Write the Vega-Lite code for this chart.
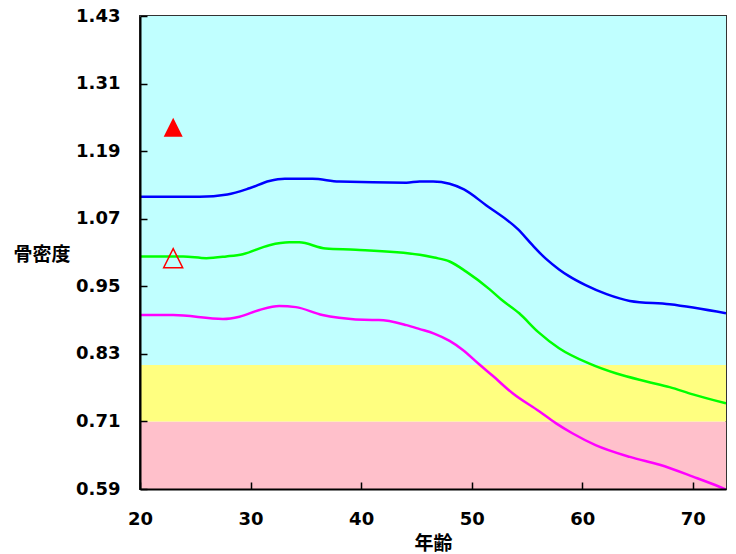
{
  "$schema": "https://vega.github.io/schema/vega-lite/v6.json",
  "width": 586,
  "height": 473,
  "autosize": {"type": "none"},
  "padding": {"left": 140, "top": 16, "right": 10, "bottom": 65},
  "background": "white",
  "config": {
    "view": {"stroke": "#333333", "strokeWidth": 2},
    "axis": {
      "grid": false,
      "labelFlush": false,
      "labelOverlap": false,
      "domainColor": "#000000",
      "domainWidth": 2,
      "tickColor": "#000000",
      "tickWidth": 1.5,
      "labelFont": "DejaVu Sans",
      "labelFontWeight": "bold",
      "labelFontSize": 18,
      "labelColor": "#000000",
      "titleFont": "Noto Sans CJK JP",
      "titleFontWeight": "bold",
      "titleFontSize": 19,
      "titleColor": "#000000"
    }
  },
  "datasets": {
    "bands": [
      {"zone": "low", "lo": 0.59, "hi": 0.71},
      {"zone": "mid", "lo": 0.71, "hi": 0.81},
      {"zone": "high", "lo": 0.81, "hi": 1.43}
    ],
    "curves": [
      {"series": "upper", "age": 20, "bmd": 1.109},
      {"series": "upper", "age": 25.4, "bmd": 1.109},
      {"series": "upper", "age": 27.9, "bmd": 1.113},
      {"series": "upper", "age": 29.9, "bmd": 1.124},
      {"series": "upper", "age": 31.7, "bmd": 1.137},
      {"series": "upper", "age": 33.1, "bmd": 1.141},
      {"series": "upper", "age": 35.6, "bmd": 1.141},
      {"series": "upper", "age": 38.0, "bmd": 1.136},
      {"series": "upper", "age": 44.1, "bmd": 1.134},
      {"series": "upper", "age": 45.3, "bmd": 1.136},
      {"series": "upper", "age": 46.5, "bmd": 1.136},
      {"series": "upper", "age": 48.0, "bmd": 1.132},
      {"series": "upper", "age": 49.3, "bmd": 1.122},
      {"series": "upper", "age": 51.3, "bmd": 1.094},
      {"series": "upper", "age": 54.2, "bmd": 1.051},
      {"series": "upper", "age": 55.5, "bmd": 1.023},
      {"series": "upper", "age": 56.7, "bmd": 0.999},
      {"series": "upper", "age": 57.9, "bmd": 0.980},
      {"series": "upper", "age": 58.8, "bmd": 0.968},
      {"series": "upper", "age": 60.3, "bmd": 0.952},
      {"series": "upper", "age": 62.2, "bmd": 0.936},
      {"series": "upper", "age": 64.3, "bmd": 0.924},
      {"series": "upper", "age": 67.9, "bmd": 0.918},
      {"series": "upper", "age": 73, "bmd": 0.902},
      {"series": "mean", "age": 20, "bmd": 1.003},
      {"series": "mean", "age": 23.9, "bmd": 1.003},
      {"series": "mean", "age": 26.0, "bmd": 1.000},
      {"series": "mean", "age": 27.8, "bmd": 1.003},
      {"series": "mean", "age": 29.3, "bmd": 1.007},
      {"series": "mean", "age": 31.7, "bmd": 1.023},
      {"series": "mean", "age": 33.5, "bmd": 1.028},
      {"series": "mean", "age": 34.4, "bmd": 1.028},
      {"series": "mean", "age": 36.8, "bmd": 1.017},
      {"series": "mean", "age": 39.5, "bmd": 1.015},
      {"series": "mean", "age": 45.3, "bmd": 1.006},
      {"series": "mean", "age": 46.6, "bmd": 1.001},
      {"series": "mean", "age": 48.0, "bmd": 0.994},
      {"series": "mean", "age": 49.5, "bmd": 0.976},
      {"series": "mean", "age": 51.6, "bmd": 0.945},
      {"series": "mean", "age": 52.7, "bmd": 0.926},
      {"series": "mean", "age": 54.3, "bmd": 0.902},
      {"series": "mean", "age": 56.0, "bmd": 0.869},
      {"series": "mean", "age": 57.9, "bmd": 0.840},
      {"series": "mean", "age": 60.6, "bmd": 0.813},
      {"series": "mean", "age": 63.1, "bmd": 0.795},
      {"series": "mean", "age": 65.8, "bmd": 0.781},
      {"series": "mean", "age": 67.9, "bmd": 0.771},
      {"series": "mean", "age": 70.0, "bmd": 0.758},
      {"series": "mean", "age": 73, "bmd": 0.742},
      {"series": "lower", "age": 20, "bmd": 0.899},
      {"series": "lower", "age": 23.0, "bmd": 0.899},
      {"series": "lower", "age": 27.5, "bmd": 0.892},
      {"series": "lower", "age": 29.0, "bmd": 0.896},
      {"series": "lower", "age": 30.8, "bmd": 0.908},
      {"series": "lower", "age": 32.6, "bmd": 0.915},
      {"series": "lower", "age": 34.1, "bmd": 0.913},
      {"series": "lower", "age": 36.5, "bmd": 0.899},
      {"series": "lower", "age": 38.0, "bmd": 0.894},
      {"series": "lower", "age": 41.0, "bmd": 0.890},
      {"series": "lower", "age": 41.6, "bmd": 0.890},
      {"series": "lower", "age": 44.1, "bmd": 0.881},
      {"series": "lower", "age": 45.3, "bmd": 0.874},
      {"series": "lower", "age": 46.6, "bmd": 0.866},
      {"series": "lower", "age": 48.0, "bmd": 0.853},
      {"series": "lower", "age": 49.2, "bmd": 0.837},
      {"series": "lower", "age": 50.7, "bmd": 0.811},
      {"series": "lower", "age": 51.9, "bmd": 0.791},
      {"series": "lower", "age": 53.7, "bmd": 0.760},
      {"series": "lower", "age": 56.1, "bmd": 0.728},
      {"series": "lower", "age": 57.6, "bmd": 0.707},
      {"series": "lower", "age": 59.1, "bmd": 0.689},
      {"series": "lower", "age": 61.2, "bmd": 0.668},
      {"series": "lower", "age": 64.3, "bmd": 0.647},
      {"series": "lower", "age": 67.0, "bmd": 0.633},
      {"series": "lower", "age": 70.0, "bmd": 0.612},
      {"series": "lower", "age": 72.4, "bmd": 0.594},
      {"series": "lower", "age": 73, "bmd": 0.589}
    ],
    "markers": [
      {"kind": "filled", "age": 23.0, "bmd": 1.2325},
      {"kind": "hollow", "age": 23.0, "bmd": 1.0}
    ]
  },
  "layer": [
    {
      "data": {"name": "bands"},
      "mark": {"type": "rect"},
      "encoding": {
        "y": {
          "field": "lo",
          "type": "quantitative",
          "scale": {"domain": [0.59, 1.43], "nice": false, "zero": false},
          "axis": {
            "values": [0.59, 0.71, 0.83, 0.95, 1.07, 1.19, 1.31, 1.43],
            "format": ".2f",
            "zindex": 2,
            "tickSize": -7,
            "labelPadding": 27,
            "title": "骨密度",
            "titleAngle": 0,
            "titleAlign": "left",
            "titleBaseline": "middle",
            "titleX": -127,
            "titleY": 238
          }
        },
        "y2": {"field": "hi"},
        "fill": {
          "field": "zone",
          "type": "nominal",
          "scale": {"domain": ["low", "mid", "high"], "range": ["#FFC0CB", "#FFFF80", "#C0FFFF"]},
          "legend": null
        }
      }
    },
    {
      "data": {"name": "curves"},
      "mark": {"type": "line", "interpolate": "monotone", "strokeWidth": 2.5, "clip": true},
      "encoding": {
        "x": {
          "field": "age",
          "type": "quantitative",
          "scale": {"domain": [20, 73], "nice": false, "zero": false},
          "axis": {
            "values": [20, 30, 40, 50, 60, 70],
            "zindex": 2,
            "tickSize": -7,
            "labelPadding": 28,
            "title": "年齢",
            "titleBaseline": "middle",
            "titleY": 54
          }
        },
        "y": {"field": "bmd", "type": "quantitative"},
        "color": {
          "field": "series",
          "type": "nominal",
          "scale": {"domain": ["upper", "mean", "lower"], "range": ["#0000FF", "#00FF00", "#FF00FF"]},
          "legend": null
        }
      }
    },
    {
      "data": {"name": "markers"},
      "transform": [{"filter": "datum.kind == 'filled'"}],
      "mark": {"type": "point", "shape": "M0,-1L1,1L-1,1Z", "size": 361, "filled": true, "color": "#FF0000", "opacity": 1},
      "encoding": {
        "x": {"field": "age", "type": "quantitative"},
        "y": {"field": "bmd", "type": "quantitative"}
      }
    },
    {
      "data": {"name": "markers"},
      "transform": [{"filter": "datum.kind == 'hollow'"}],
      "mark": {"type": "point", "shape": "M0,-1L1,1L-1,1Z", "size": 361, "filled": false, "color": "#FF0000", "strokeWidth": 1.5, "opacity": 1},
      "encoding": {
        "x": {"field": "age", "type": "quantitative"},
        "y": {"field": "bmd", "type": "quantitative"}
      }
    }
  ],
  "resolve": {"scale": {"color": "independent", "fill": "independent"}}
}
